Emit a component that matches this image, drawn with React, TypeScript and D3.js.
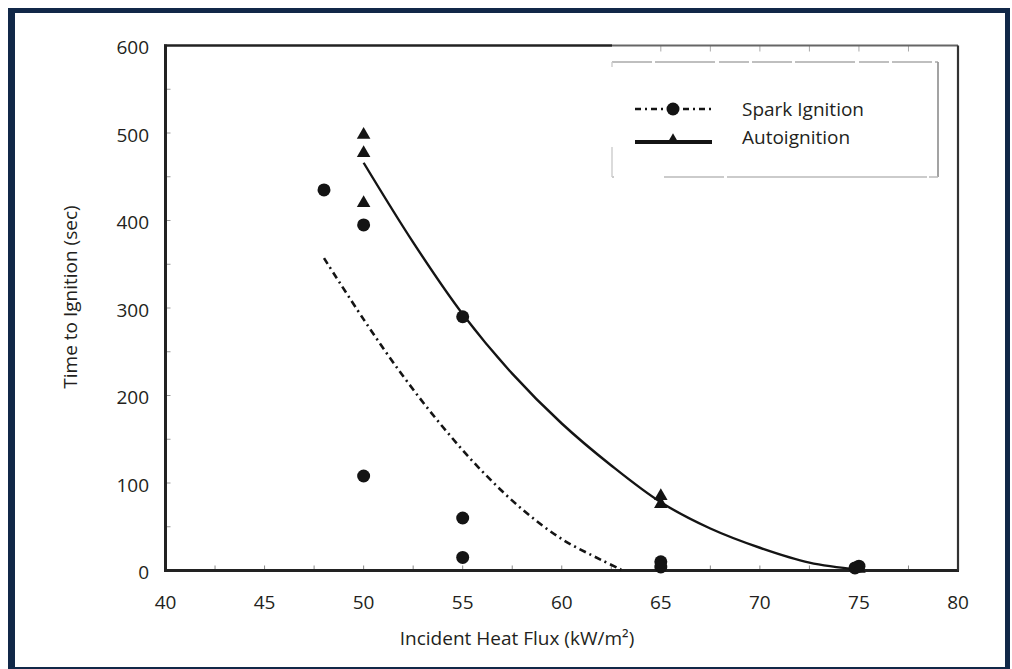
import React from 'react';
import * as d3 from 'd3';

const xTickValues = [40, 45, 50, 55, 60, 65, 70, 75, 80];
const yTickValues = [0, 100, 200, 300, 400, 500, 600];
const xMinorTicks = [42.5, 45, 47.5, 50, 52.5, 55, 57.5, 60, 62.5, 65, 67.5, 70, 72.5, 75, 77.5];
const yMinorTicks = [50, 100, 150, 200, 250, 300, 350, 400, 450, 500, 550];

const sparkX = [48, 50, 50, 55, 55, 55, 65, 65, 75, 74.8];
const sparkY = [435, 395, 108, 290, 60, 15, 10, 4, 5, 3];
const autoX = [50, 50, 50, 65, 65, 75];
const autoY = [498, 477, 420, 85, 76, 2];

const sparkCurveX = [48, 50, 52, 54, 56, 58, 60, 62, 63];
const sparkCurveY = [357, 287, 222, 164, 113, 70, 36, 12, 1];
const autoCurveX = [50, 52.5, 55, 57.5, 60, 62.5, 65, 67.5, 70, 72.5, 75];
const autoCurveY = [466, 375, 293, 225, 168, 120, 78, 48, 26, 9, 1];

const legendLabels = ['Spark Ignition', 'Autoignition'];
const xTitle = 'Incident Heat Flux (kW/m²)';
const yTitle = 'Time to Ignition (sec)';

const W = 1012;
const H = 669;
const FONT = '"Open Sans", "Noto Sans", sans-serif';
const TEXT = '#231f20';
const INK = '#141414';
const NAVY = '#112848';

export default function App() {
  const x = d3.scaleLinear().domain([40, 80]).range([165.5, 958]);
  const y = d3.scaleLinear().domain([0, 600]).range([570.5, 45.5]);

  const line = d3
    .line<[number, number]>()
    .x((d) => x(d[0]))
    .y((d) => y(d[1]))
    .curve(d3.curveCatmullRom.alpha(0.5));

  const sparkPath = line(sparkCurveX.map((v, i) => [v, sparkCurveY[i]]) as [number, number][]) || '';
  const autoPath = line(autoCurveX.map((v, i) => [v, autoCurveY[i]]) as [number, number][]) || '';
  const tri = d3.symbol(d3.symbolTriangle, 80)() || '';
  const triLegend = d3.symbol(d3.symbolTriangle, 60)() || '';

  const [x0, x1] = x.range();
  const [yb, yt] = y.range();
  const fs = 19;

  return (
    <svg
      width={W}
      height={H}
      style={{ position: 'absolute', left: 0, top: 0, background: '#fff' }}
      fontFamily={FONT}
    >
      <rect x={0} y={0} width={W} height={H} fill="#fff" />
      {/* outer navy frame */}
      <rect x={8} y={8} width={7} height={661} fill={NAVY} />
      <rect x={8} y={8} width={1002} height={5} fill={NAVY} />
      <rect x={1005} y={8} width={5} height={661} fill={NAVY} />
      <rect x={8} y={667} width={1002} height={2} fill={NAVY} />

      {/* minor ticks */}
      {xMinorTicks.map((t) => (
        <line key={'xm' + t} x1={x(t)} x2={x(t)} y1={yb} y2={yb - 5} stroke="#888" strokeWidth={1} />
      ))}
      {xMinorTicks.filter((t) => x(t) > 612).map((t) => (
        <line key={'xt' + t} x1={x(t)} x2={x(t)} y1={yt} y2={yt + 6} stroke="#aaa" strokeWidth={1} />
      ))}
      {yMinorTicks.map((t) => (
        <line key={'ym' + t} x1={x0} x2={x0 + 5} y1={y(t)} y2={y(t)} stroke="#999" strokeWidth={1} />
      ))}

      {/* plot frame */}
      <line x1={x0} x2={x0} y1={yt - 1} y2={yb + 1.5} stroke="#222" strokeWidth={3} />
      <line x1={x0 - 1.5} x2={x1 + 1} y1={yb} y2={yb} stroke="#222" strokeWidth={3} />
      <line x1={x0 - 1.5} x2={612} y1={yt} y2={yt} stroke="#222" strokeWidth={2.6} />
      <line x1={612} x2={x1} y1={yt} y2={yt} stroke="#666" strokeWidth={1.8} />
      <line x1={x1} x2={x1} y1={yt} y2={yb} stroke="#333" strokeWidth={2.2} />

      {/* legend box */}
      <line x1={612} x2={938} y1={62} y2={62} stroke="#aaa" strokeWidth={1.6} strokeDasharray="40 3 60 4 30 3" />
      <line x1={938} x2={938} y1={62} y2={177} stroke="#999" strokeWidth={1.8} />
      <line x1={612} x2={938} y1={177} y2={177} stroke="#bbb" strokeWidth={1.6} strokeDasharray="2 50 60 3 200" />
      <line x1={612} x2={612} y1={62} y2={177} stroke="#ccc" strokeWidth={1.4} strokeDasharray="5 80 30" />

      <line x1={635} x2={712} y1={109} y2={109} stroke={INK} strokeWidth={2.6} strokeDasharray="6 4 2 4" />
      <circle cx={673} cy={109} r={6.5} fill={INK} />
      <line x1={635} x2={712} y1={142} y2={142} stroke={INK} strokeWidth={4} />
      <path d={triLegend} transform="translate(673,140)" fill={INK} />
      {legendLabels.map((l, i) => (
        <text key={l} x={742} y={116 + i * 28} fontSize={fs} fill={TEXT}>
          {l}
        </text>
      ))}

      {/* curves */}
      <path d={sparkPath} fill="none" stroke={INK} strokeWidth={2.6} strokeDasharray="7 4 2 4" />
      <path d={autoPath} fill="none" stroke={INK} strokeWidth={2.4} />

      {/* points */}
      {sparkX.map((v, i) => (
        <circle key={'s' + i} cx={x(v)} cy={y(sparkY[i])} r={6.5} fill={INK} />
      ))}
      {autoX.map((v, i) => (
        <path key={'a' + i} d={tri} transform={`translate(${x(v)},${y(autoY[i])})`} fill={INK} />
      ))}

      {/* tick labels */}
      {xTickValues.map((t) => (
        <text key={'xl' + t} x={x(t)} y={609} textAnchor="middle" fontSize={fs} fill={TEXT}>
          {t}
        </text>
      ))}
      {yTickValues.map((t) => (
        <text key={'yl' + t} x={149} y={y(t) + 1.5} textAnchor="end" dominantBaseline="central" fontSize={fs} fill={TEXT}>
          {t}
        </text>
      ))}

      {/* axis titles */}
      <text x={517} y={645} textAnchor="middle" fontSize={fs} fill={TEXT}>
        {xTitle}
      </text>
      <text
        transform={`translate(77,297) rotate(-90)`}
        textAnchor="middle"
        fontSize={fs}
        fill={TEXT}
      >
        {yTitle}
      </text>
    </svg>
  );
}
